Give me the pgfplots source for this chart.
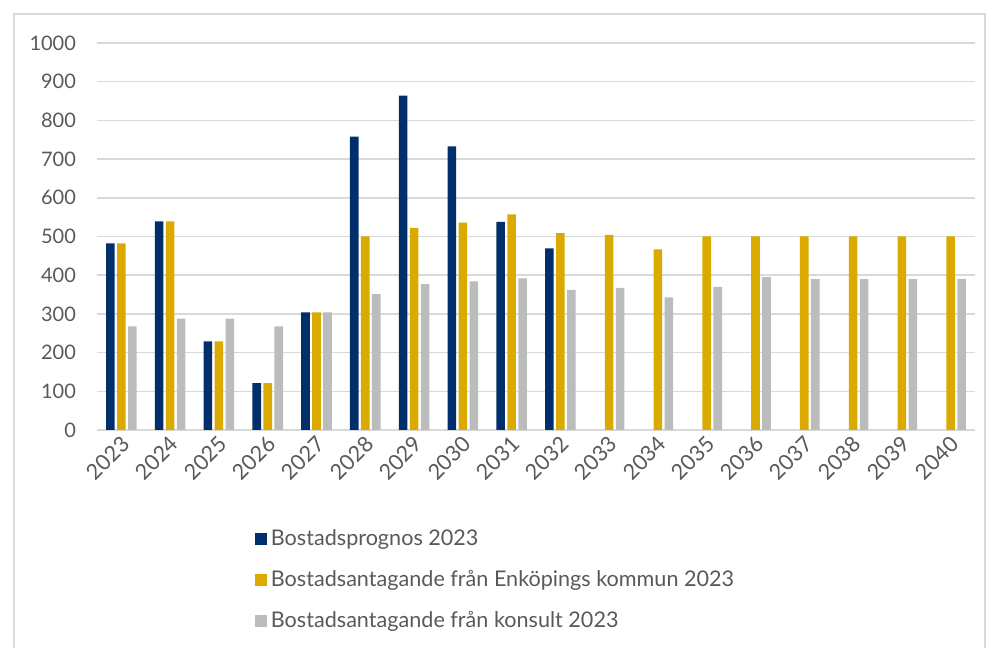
\documentclass[border=0pt]{standalone}
\usepackage{pgfplots}
\usepackage{pgfplotstable}
\pgfplotsset{compat=1.18}
\usepackage{fontspec}
\setmainfont{Lato}
\definecolor{cblue}{HTML}{002F6C}
\definecolor{cgold}{HTML}{DAAA00}
\definecolor{cgray}{HTML}{BBBCBC}
\definecolor{tgray}{HTML}{595959}
\definecolor{gridc}{HTML}{D9D9D9}
\pgfplotstableread{
x prog kom kons
0 482 482 268
1 539 539 288
2 229 229 288
3 121 121 268
4 304 304 304
5 758 500 351
6 864 522 377
7 733 536 384
8 538 557 392
9 469 509 362
10 nan 504 367
11 nan 467 343
12 nan 500 370
13 nan 500 395
14 nan 500 390
15 nan 500 390
16 nan 500 390
17 nan 500 390
}\data
\begin{document}
\begin{tikzpicture}
\begin{axis}[name=ax, scale only axis, width=439pt, height=193.5pt,
  ybar=1.2pt, bar width=4.3pt,
  xmin=-0.5, xmax=17.5, ymin=0, ymax=1000,
  ytick={0,100,...,1000},
  xtick={0,...,17},
  xticklabels={2023,2024,2025,2026,2027,2028,2029,2030,2031,2032,2033,2034,2035,2036,2037,2038,2039,2040},
  x tick label style={rotate=45, anchor=north east, inner sep=1pt, xshift=-1pt, font=\fontsize{10.8}{12}\selectfont, text=tgray},
  y tick label style={font=\fontsize{10}{12}\selectfont, text=tgray, xshift=-7pt, /pgf/number format/1000 sep={}, /pgf/number format/assume math mode=true},
  ymajorgrids, grid style={gridc, line width=0.75pt},
  axis line style={draw=none}, major tick length=0pt,
  legend style={at={(0.173,-0.235)}, anchor=north west, draw=none, fill=none, row sep=7pt,
    font=\fontsize{10.8}{13}\selectfont, text=tgray, legend cell align=left},
  legend image code/.code={\fill[#1] (0pt,-2.9pt) rectangle (5.8pt,2.9pt);},
]
\addplot[fill=cblue, draw=none] table[x=x, y=prog] {\data};
\addplot[fill=cgold, draw=none] table[x=x, y=kom] {\data};
\addplot[fill=cgray, draw=none] table[x=x, y=kons] {\data};
\legend{Bostadsprognos 2023, Bostadsantagande från Enköpings kommun 2023, Bostadsantagande från konsult 2023}
\end{axis}
\draw[gridc, line width=0.75pt] ([shift={(-41.5pt,-109pt)}]ax.south west) -- ([shift={(-41.5pt,208pt)}]ax.south west) -- ([shift={(444pt,208pt)}]ax.south west) -- ([shift={(444pt,-109pt)}]ax.south west);
\path[use as bounding box] ([shift={(-48.5pt,-109pt)}]ax.south west) rectangle ([shift={(445pt,215pt)}]ax.south west);
\end{tikzpicture}
\end{document}
